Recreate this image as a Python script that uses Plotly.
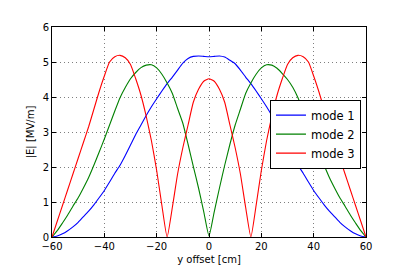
import plotly.graph_objects as go

# y offset positions [cm]
y_offset = list(range(-60, 61, 2))

# |E| [MV/m] for each mode
mode1 = [0.0, 0.03, 0.09, 0.18, 0.29, 0.42, 0.58, 0.74, 0.92, 1.12,
         1.33, 1.57, 1.82, 2.05, 2.33, 2.63, 2.93, 3.2, 3.47, 3.72,
         3.95, 4.17, 4.38, 4.57, 4.77, 4.97, 5.1, 5.16, 5.17, 5.16,
         5.15,
         5.16, 5.17, 5.14, 5.05, 4.95, 4.77, 4.57, 4.38, 4.17, 3.95,
         3.72, 3.47, 3.2, 2.93, 2.63, 2.33, 2.05, 1.82, 1.57, 1.33,
         1.12, 0.92, 0.74, 0.58, 0.42, 0.29, 0.18, 0.09, 0.03, 0.0]

mode2 = [0.0, 0.18, 0.4, 0.63, 0.88, 1.12, 1.4, 1.7, 2.05, 2.42,
         2.8, 3.2, 3.6, 3.98, 4.27, 4.52, 4.7, 4.84, 4.91, 4.92,
         4.83, 4.65, 4.4, 4.1, 3.67, 3.25, 2.65, 2.02, 1.4, 0.72,
         0.03,
         0.72, 1.4, 2.05, 2.65, 3.2, 3.65, 4.1, 4.4, 4.65, 4.83,
         4.92, 4.91, 4.82, 4.67, 4.5, 4.28, 3.98, 3.6, 3.2, 2.8,
         2.42, 2.05, 1.7, 1.4, 1.12, 0.88, 0.63, 0.4, 0.18, 0.0]

mode3 = [0.0, 0.45, 0.9, 1.35, 1.8, 2.25, 2.7, 3.15, 3.65, 4.15,
         4.6, 5.0, 5.15, 5.19, 5.12, 4.93, 4.52, 4.05, 3.45, 2.75,
         1.9, 0.9, 0.0, 0.85, 1.8, 2.55, 3.2, 3.85, 4.22, 4.45,
         4.52,
         4.45, 4.22, 3.85, 3.2, 2.55, 1.8, 0.85, 0.0, 0.9, 1.9,
         2.75, 3.45, 4.05, 4.52, 4.93, 5.12, 5.19, 5.15, 5.0, 4.6,
         4.15, 3.65, 3.15, 2.7, 2.25, 1.8, 1.35, 0.9, 0.45, 0.0]

series = [("mode 1", mode1, "#0000ff"),
          ("mode 2", mode2, "#008000"),
          ("mode 3", mode3, "#ff0000")]

x_ticks = [-60, -40, -20, 0, 20, 40, 60]
y_ticks = [0, 1, 2, 3, 4, 5, 6]

fig = go.Figure()
for name, vals, col in series:
    fig.add_trace(go.Scatter(x=y_offset, y=vals, mode="lines", name=name,
                             line=dict(color=col, width=1.1, shape="spline",
                                       smoothing=0.5)))

axis_common = dict(
    showline=True, linecolor="black", linewidth=1, mirror="ticks",
    ticks="inside", ticklen=4, tickcolor="black", tickwidth=1,
    showgrid=True, gridcolor="rgba(0,0,0,0.5)", gridwidth=1, griddash="1px,3px",
    zeroline=False, automargin=False,
    tickfont=dict(family="DejaVu Sans", size=10, color="black"),
)

fig.update_xaxes(range=[-60, 60], tickvals=x_ticks,
                 title=dict(text="y offset [cm]", standoff=4,
                            font=dict(family="DejaVu Sans", size=10, color="black")),
                 **axis_common)
fig.update_yaxes(range=[0, 6], tickvals=y_ticks,
                 title=dict(text="|E| [MV/m]", standoff=6,
                            font=dict(family="DejaVu Sans", size=10, color="black")),
                 **axis_common)

# the page body adds an 8px offset; margins compensate so the plot area
# lands at x 52..366, y 27..237 in the window
fig.update_layout(
    width=407, height=271,
    margin=dict(l=44, r=49, t=19, b=42),
    paper_bgcolor="white", plot_bgcolor="white",
    font=dict(family="DejaVu Sans", color="black"),
    legend=dict(x=0.984, y=0.49, xanchor="right", yanchor="middle",
                bgcolor="white", bordercolor="black", borderwidth=1,
                font=dict(family="DejaVu Sans", size=11.5, color="black"),
                tracegroupgap=0, itemwidth=30),
    showlegend=True,
)

fig.write_html("out.html")
